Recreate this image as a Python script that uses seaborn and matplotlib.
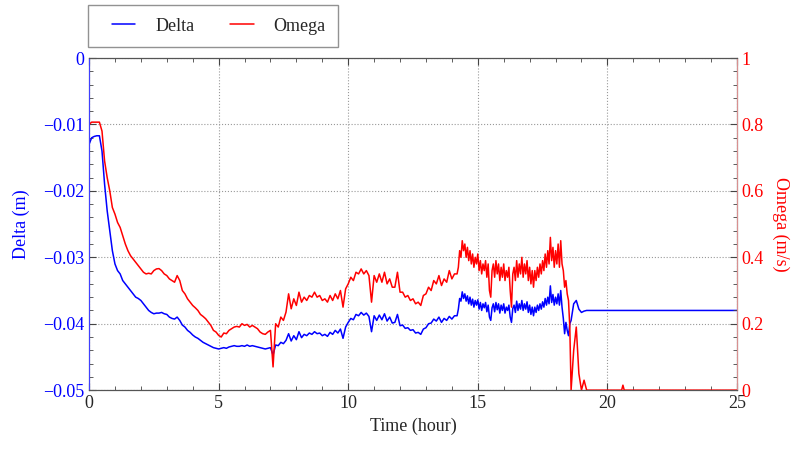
import numpy as np
import pandas as pd
import seaborn as sns
import matplotlib.pyplot as plt
from matplotlib.ticker import MultipleLocator
from matplotlib.lines import Line2D
from matplotlib.legend_handler import HandlerLine2D

# time axis (hour): 0.1 h steps, 0.05 h in the noisy stretch, then a few tail points
time = (list(np.round(np.arange(0, 14.15, 0.1), 2))
        + list(np.round(np.arange(14.2, 18.575, 0.05), 2))
        + list(np.round(np.arange(18.6, 19.45, 0.1), 2))
        + [20.55, 20.6, 20.65, 25.0])

delta = [
    # 0 - 14.1 h
    -0.013, -0.012, -0.0118, -0.0117, -0.0117, -0.014, -0.019, -0.023, -0.026, -0.029,
    -0.031, -0.032, -0.0325, -0.0335, -0.034, -0.0345, -0.035, -0.0355, -0.036, -0.0362,
    -0.0365, -0.037, -0.0375, -0.038, -0.0383, -0.0385, -0.0384, -0.0384, -0.0383, -0.0385,
    -0.0386, -0.039, -0.0392, -0.0393, -0.039, -0.0395, -0.0402, -0.0405, -0.041, -0.0413,
    -0.0417, -0.042, -0.0422, -0.0425, -0.0428, -0.043, -0.0432, -0.0434, -0.0436, -0.0437,
    -0.0438, -0.0437, -0.0436, -0.0437, -0.0435, -0.0434, -0.0433, -0.0434, -0.0434, -0.0433,
    -0.0434, -0.0432, -0.0434, -0.0433, -0.0434, -0.0435, -0.0436, -0.0437, -0.0438, -0.0437,
    -0.0436, -0.0447, -0.0432, -0.0433, -0.0428, -0.043, -0.0425, -0.0415, -0.0426, -0.0418,
    -0.0424, -0.0412, -0.0421, -0.0416, -0.0418, -0.0414, -0.0416, -0.0412, -0.0415, -0.0414,
    -0.0418, -0.0416, -0.0419, -0.0413, -0.0416, -0.041, -0.0414, -0.0408, -0.0422, -0.0405,
    -0.0398, -0.0392, -0.0394, -0.0386, -0.0388, -0.0383, -0.0387, -0.0384, -0.0389, -0.0412,
    -0.0388, -0.0395, -0.0387, -0.0394, -0.0385, -0.0396, -0.039, -0.0399, -0.0398, -0.0386,
    -0.0403, -0.0402, -0.0407, -0.0406, -0.041, -0.0409, -0.0414, -0.0413, -0.0416, -0.0408,
    -0.0406, -0.04, -0.0399, -0.0393, -0.0396, -0.039, -0.0398, -0.0392, -0.0395, -0.0389,
    -0.0393, -0.0388,
    # 14.2 - 18.55 h
    -0.0388, -0.0378, -0.0362, -0.0366, -0.0352, -0.0362, -0.0355, -0.0366, -0.0358, -0.037,
    -0.036, -0.0372, -0.0363, -0.0375, -0.0365, -0.0372, -0.0364, -0.0378, -0.0368, -0.038,
    -0.037, -0.0376, -0.0368, -0.0382, -0.0372, -0.039, -0.0395, -0.0376, -0.037, -0.0382,
    -0.0368, -0.0379, -0.037, -0.0384, -0.0372, -0.038, -0.037, -0.0384, -0.0375, -0.038,
    -0.0372, -0.039, -0.0398, -0.0377, -0.0372, -0.0383, -0.0366, -0.038, -0.037, -0.0378,
    -0.0365, -0.038, -0.037, -0.0378, -0.0367, -0.0383, -0.0372, -0.0386, -0.0375, -0.0388,
    -0.0375, -0.0383, -0.0372, -0.038, -0.037, -0.0378, -0.0367, -0.0375, -0.0362, -0.0372,
    -0.036, -0.037, -0.0343, -0.0368, -0.0356, -0.0372, -0.036, -0.037, -0.0355, -0.0372,
    -0.035, -0.0375, -0.0392, -0.0415, -0.0398, -0.041, -0.0418, -0.04,
    # 18.6 - 19.4 h
    -0.0395, -0.037, -0.0365, -0.0378, -0.0383, -0.0381, -0.038, -0.038, -0.038,
    # tail
    -0.038, -0.038, -0.038, -0.038,
]

omega = [
    # 0 - 14.1 h
    0.80, 0.807, 0.807, 0.807, 0.807, 0.78, 0.69, 0.64, 0.60, 0.55,
    0.53, 0.505, 0.49, 0.465, 0.44, 0.42, 0.405, 0.395, 0.385, 0.375,
    0.365, 0.355, 0.35, 0.352, 0.35, 0.36, 0.365, 0.366, 0.36, 0.35,
    0.345, 0.335, 0.33, 0.325, 0.345, 0.33, 0.30, 0.29, 0.275, 0.265,
    0.255, 0.248, 0.24, 0.228, 0.222, 0.215, 0.205, 0.195, 0.18, 0.175,
    0.165, 0.16, 0.172, 0.17, 0.18, 0.185, 0.19, 0.192, 0.19, 0.20,
    0.195, 0.198, 0.19, 0.195, 0.19, 0.185, 0.175, 0.17, 0.168, 0.175,
    0.18, 0.07, 0.20, 0.19, 0.22, 0.21, 0.235, 0.29, 0.245, 0.275,
    0.255, 0.295, 0.265, 0.28, 0.27, 0.285, 0.28, 0.295, 0.28, 0.285,
    0.27, 0.275, 0.265, 0.285, 0.27, 0.29, 0.275, 0.30, 0.25, 0.305,
    0.32, 0.34, 0.33, 0.355, 0.35, 0.365, 0.35, 0.36, 0.345, 0.265,
    0.345, 0.325, 0.35, 0.325, 0.355, 0.32, 0.335, 0.31, 0.31, 0.355,
    0.295, 0.295, 0.28, 0.285, 0.27, 0.275, 0.26, 0.265, 0.255, 0.285,
    0.29, 0.31, 0.30, 0.33, 0.32, 0.345, 0.315, 0.335, 0.325, 0.36,
    0.335, 0.35,
    # 14.2 - 18.55 h
    0.35, 0.37, 0.42, 0.40, 0.45, 0.42, 0.44, 0.40, 0.43, 0.39,
    0.42, 0.38, 0.41, 0.37, 0.40, 0.38, 0.41, 0.36, 0.39, 0.35,
    0.38, 0.36, 0.39, 0.34, 0.38, 0.30, 0.28, 0.36, 0.38, 0.34,
    0.39, 0.35, 0.38, 0.33, 0.37, 0.34, 0.38, 0.33, 0.36, 0.34,
    0.37, 0.30, 0.25, 0.35, 0.37, 0.33, 0.39, 0.34, 0.38, 0.35,
    0.40, 0.34, 0.38, 0.35, 0.39, 0.33, 0.37, 0.32, 0.36, 0.31,
    0.36, 0.33, 0.37, 0.34, 0.38, 0.35, 0.39, 0.36, 0.41, 0.37,
    0.42, 0.38, 0.46, 0.39, 0.43, 0.37, 0.42, 0.38, 0.44, 0.37,
    0.45, 0.38, 0.36, 0.31, 0.33, 0.29, 0.27, 0.19,
    # 18.6 - 19.4 h
    0.0, 0.12, 0.19, 0.05, 0.0, 0.03, 0.0, 0.0, 0.0,
    # tail
    0.0, 0.015, 0.0, 0.0,
]

delta_ticks = [-0.05, -0.04, -0.03, -0.02, -0.01, 0]
delta_labels = ['\u22120.05', '\u22120.04', '\u22120.03', '\u22120.02', '\u22120.01', '0']
omega_ticks = [0, 0.2, 0.4, 0.6, 0.8, 1]
omega_labels = ['0', '0.2', '0.4', '0.6', '0.8', '1']

df = pd.DataFrame({'time': time, 'delta': delta, 'omega': omega})

sns.set_style('ticks')
plt.rcParams['font.family'] = ['Liberation Serif', 'DejaVu Serif']

fig = plt.figure(figsize=(7.95, 4.5), dpi=100)
ax = fig.add_axes([0.112, 0.133, 0.815, 0.738])
ax2 = ax.twinx()

sns.lineplot(data=df, x='time', y='delta', ax=ax, color='blue', linewidth=1.1)
sns.lineplot(data=df, x='time', y='omega', ax=ax2, color='red', linewidth=1.1)

ax.set_xlim(0, 25)
ax.set_ylim(-0.05, 0)
ax2.set_ylim(0, 1)

ax.xaxis.set_major_locator(MultipleLocator(5))
ax.xaxis.set_minor_locator(MultipleLocator(1))
ax.set_yticks(delta_ticks, delta_labels)
ax.yaxis.set_minor_locator(MultipleLocator(0.002))
ax2.set_yticks(omega_ticks, omega_labels)
ax2.yaxis.set_minor_locator(MultipleLocator(0.04))

ax.grid(True, which='major', color='#999999', linestyle=':', linewidth=0.8)

tick_col = '#444444'
ax.tick_params(axis='x', which='both', direction='in', top=True, labelsize=13, color=tick_col)
ax.tick_params(axis='x', which='major', length=5)
ax.tick_params(axis='x', which='minor', length=3)
ax.tick_params(axis='y', which='both', direction='in', color=tick_col, labelcolor='blue', labelsize=13)
ax.tick_params(axis='y', which='major', length=5)
ax.tick_params(axis='y', which='minor', length=3)
ax2.tick_params(axis='y', which='both', direction='in', color=tick_col, labelcolor='red', labelsize=13)
ax2.tick_params(axis='y', which='major', length=5)
ax2.tick_params(axis='y', which='minor', length=3)

for spine in ['top', 'bottom']:
    ax2.spines[spine].set_color('#555555')
ax2.spines['left'].set_color('#4040ff')
ax2.spines['right'].set_color('#d89090')

ax.set_xlabel('Time (hour)', fontsize=13)
ax.set_ylabel('Delta (m)', fontsize=13, color='blue', labelpad=9)
ax2.set_ylabel('Omega (m/s)', fontsize=13, color='red', rotation=270, labelpad=18)

handles = [Line2D([], [], color='blue', linewidth=1.1), Line2D([], [], color='red', linewidth=1.1)]
leg = fig.legend(handles, ['Delta', 'Omega'], loc='upper left',
                 bbox_to_anchor=(0.111, 0.989), ncol=2, fontsize=13,
                 frameon=True, fancybox=False, edgecolor='#777777',
                 handlelength=1.9, columnspacing=1.4, handletextpad=1.1,
                 borderpad=0.7, borderaxespad=0,
                 handler_map={Line2D: HandlerLine2D(xpad=0.6)})
leg.get_frame().set_linewidth(1.0)

plt.savefig('out.png', dpi=100)
